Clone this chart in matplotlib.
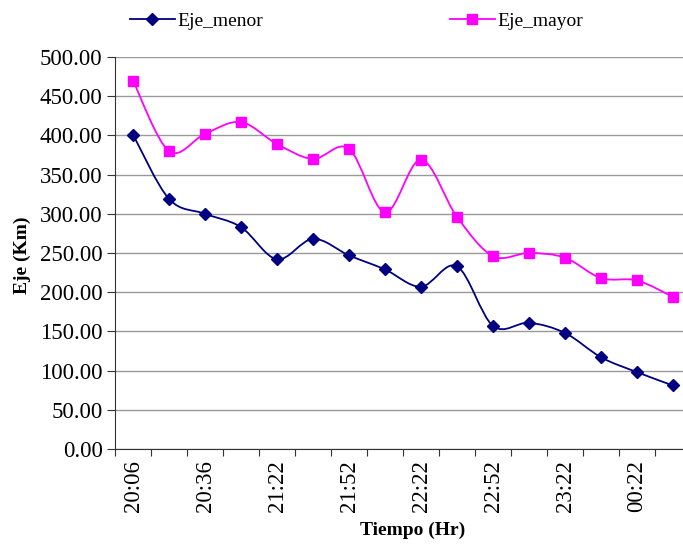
import numpy as np
import matplotlib
matplotlib.use("Agg")
import matplotlib.pyplot as plt
from matplotlib.path import Path
from matplotlib.patches import PathPatch
from matplotlib.lines import Line2D

# ---- data ----
categories = ["20:06", "20:21", "20:36", "20:51", "21:22", "21:37", "21:52", "22:07",
              "22:22", "22:37", "22:52", "23:07", "23:22", "23:52", "00:22", "00:52"]
eje_menor = [401, 319, 300, 283, 242, 268, 247, 229, 207, 233, 157, 161, 148, 117, 98, 81]
eje_mayor = [470, 380, 402, 417, 389, 370, 383, 302, 369, 296, 246, 250, 244, 218, 215, 194]
y_ticks = [0, 50, 100, 150, 200, 250, 300, 350, 400, 450, 500]

plt.rcParams['font.family'] = ['Liberation Serif', 'DejaVu Serif']

fig = plt.figure(figsize=(6.83, 5.46), dpi=100)
ax = fig.add_axes([115/683, 97/546, 576/683, 392/546])

def smooth_path(xs, ys):
    pts = np.column_stack([xs, ys]).astype(float)
    n = len(pts)
    verts = [pts[0]]
    codes = [Path.MOVETO]
    for i in range(n - 1):
        p0 = pts[i - 1] if i > 0 else pts[i]
        p1 = pts[i]
        p2 = pts[i + 1]
        p3 = pts[i + 2] if i + 2 < n else pts[i + 1]
        c1 = p1 + (p2 - p0) / 6.0
        c2 = p2 - (p3 - p1) / 6.0
        verts += [c1, c2, p2]
        codes += [Path.CURVE4] * 3
    return Path(verts, codes)

x = np.arange(len(categories))
series = [(eje_menor, "#000080", "D", 6.5, "Eje_menor"),
          (eje_mayor, "#FF00FF", "s", 7, "Eje_mayor")]
handles = []
for vals, col, mk, ms, lab in series:
    ax.add_patch(PathPatch(smooth_path(x, vals), facecolor="none", edgecolor=col,
                           lw=1.3, zorder=3))
    ax.plot(x, vals, linestyle="none", marker=mk, color=col, markersize=ms, zorder=4)
    handles.append(Line2D([0], [0], color=col, lw=1.3, marker=mk, markersize=ms, label=lab))

ax.set_xlim(-0.5, len(categories) - 0.5)
ax.set_ylim(0, 500)
ax.set_yticks(y_ticks)
ax.set_yticklabels([f"{v:.2f}" for v in y_ticks], fontsize=16.5)
ax.yaxis.grid(True, color="#999999", lw=1)
ax.set_axisbelow(True)

ax.set_xticks(np.arange(-0.5, len(categories), 1))
ax.set_xticklabels([])
ax.set_xticks(x[::2], minor=True)
ax.set_xticklabels(categories[::2], minor=True, rotation=90, fontsize=16.5)
ax.tick_params(axis="x", which="minor", length=0, pad=8)
ax.tick_params(axis="x", which="major", length=5, direction="out", color="#333333")
ax.tick_params(axis="y", length=6, direction="out", pad=3, color="#333333")

for s in ["top", "right"]:
    ax.spines[s].set_visible(False)
ax.spines["left"].set_color("#333333")
ax.spines["bottom"].set_color("#333333")

fig.text(22/683, 1 - 255/546, "Eje (Km)", rotation=90, fontsize=14, fontweight="bold",
         ha="center", va="center")
fig.text(413/683, 1 - 530/546, "Tiempo (Hr)", fontsize=14, fontweight="bold",
         ha="center", va="center")

fig.legend(handles=handles, loc="center left", bbox_to_anchor=(130/683, 1 - 21/546),
           ncol=2, frameon=False, fontsize=14, handlelength=2.3, handletextpad=0.15,
           columnspacing=9.6, borderpad=0, borderaxespad=0)

fig.savefig("out.png", dpi=100)
